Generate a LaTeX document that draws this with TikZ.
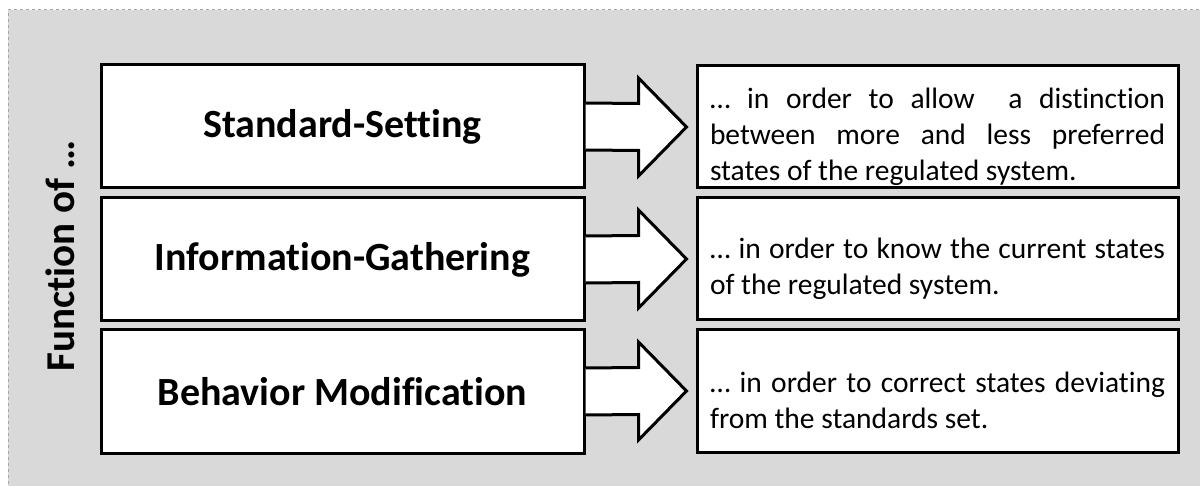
\documentclass[tikz,border=0pt]{standalone}
\usepackage{fontspec}
\setmainfont{Carlito}[Ligatures=NoCommon]
\usetikzlibrary{calc}
\definecolor{bggray}{HTML}{D9D9D9}
\definecolor{bordergray}{HTML}{A6A6A6}
\hyphenpenalty=10000
\exhyphenpenalty=10000
\newcommand{\mytopstrut}{\vrule height 40pt depth 0pt width 0pt\relax}
\newcommand{\descfont}{\fontsize{29.5}{36}\selectfont\fontdimen4\font=0pt\relax}
\newcommand{\funcfont}{\fontsize{40}{48}\selectfont\bfseries}
\newcommand{\sidefont}{\fontsize{41}{48}\selectfont\bfseries}
\tikzset{
  funcbox/.style={draw=black, line width=3pt, fill=white, minimum width=483pt, minimum height=123pt, font=\funcfont, inner sep=0pt},
  descbox/.style={draw=black, line width=3pt, fill=white, minimum width=481pt, minimum height=122pt, text width=455pt, align=justify, font=\descfont, inner sep=0pt},
  blockarrow/.style={draw=black, line width=3pt, fill=white, line join=miter},
}
\begin{document}
\begin{tikzpicture}[x=1pt,y=-1pt]
\useasboundingbox (0,0) rectangle (1200,486);
\fill[bggray] (8,10) rectangle (1210,496);
\draw[bordergray, dashed, line width=1pt] (8,496) -- (8,10) -- (1210,10);

\node[funcbox] (L1) at (342.5,126.5) {Standard-Setting};
\node[funcbox] (L2) at (342.5,259.5) {Information-Gathering};
\node[funcbox] (L3) at (342.5,391.5) {Behavior Modification};

\node[descbox] (R1) at (937.5,127) {\mytopstrut… in order to allow~ a distinction between more and less preferred states of the regulated system.};
\node[descbox] (R2) at (937.5,259) {\mytopstrut… in order to know the current states of the regulated system.};
\node[descbox] (R3) at (937.5,391) {\mytopstrut… in order to correct states deviating from the standards set.};

\node[rotate=90, font=\sidefont] (F) at (60,256) {Function of …};

\foreach \i in {1,2,3}{
  \coordinate (s\i) at (L\i.east);
  \coordinate (t\i) at ($(R\i.west)+(-9,0)$);
  \draw[blockarrow] ($(s\i)+(0,-23.5)$) -- ($(t\i)+(-48,-23.5)$) -- ($(t\i)+(-48,-49)$) -- (t\i) -- ($(t\i)+(-48,49)$) -- ($(t\i)+(-48,23.5)$) -- ($(s\i)+(0,23.5)$);
}
\end{tikzpicture}
\end{document}
